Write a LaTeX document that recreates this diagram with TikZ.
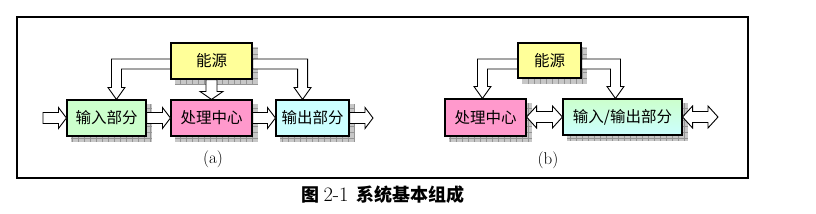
\documentclass[tikz,border=0pt]{standalone}
\usepackage{fontspec}
\newfontfamily\cjk{Noto Sans CJK SC}
\usetikzlibrary{calc,backgrounds}

\definecolor{powercol}{HTML}{FFFF99}
\definecolor{incol}{HTML}{CCFFCC}
\definecolor{cpucol}{HTML}{FF99CC}
\definecolor{outcol}{HTML}{CCFFFF}

% hollow block arrows, drawn as one outline
\newcommand\hollowright[2]{%
  \draw[hollow] let \p1=(#1), \p2=(#2) in
    (\x1,{\y2+5.5pt}) -- ({\x2-8pt},{\y2+5.5pt}) -- ({\x2-8pt},{\y2+10.5pt}) -- (\x2,\y2)
    -- ({\x2-8pt},{\y2-10.5pt}) -- ({\x2-8pt},{\y2-5.5pt}) -- (\x1,{\y2-5.5pt}) -- cycle;}
\newcommand\hollowboth[2]{%
  \draw[hollow] let \p1=(#1), \p2=(#2) in
    (\x1,\y2) -- ({\x1+10pt},{\y2+11pt}) -- ({\x1+10pt},{\y2+5.5pt}) -- ({\x2-10pt},{\y2+5.5pt})
    -- ({\x2-10pt},{\y2+11pt}) -- (\x2,\y2) -- ({\x2-10pt},{\y2-11pt}) -- ({\x2-10pt},{\y2-5.5pt})
    -- ({\x1+10pt},{\y2-5.5pt}) -- ({\x1+10pt},{\y2-11pt}) -- cycle;}
\newcommand\hollowdown[2]{%
  \draw[hollow] let \p1=(#1), \p2=(#2) in
    ({\x2-5.5pt},\y1) -- ({\x2-5.5pt},{\y2+8pt}) -- ({\x2-11.5pt},{\y2+8pt}) -- (\x2,\y2)
    -- ({\x2+11.5pt},{\y2+8pt}) -- ({\x2+5.5pt},{\y2+8pt}) -- ({\x2+5.5pt},\y1) -- cycle;}
% #3: 1 = goes right, -1 = goes left
\newcommand\hollowbent[3]{%
  \draw[hollow] let \p1=(#1), \p2=(#2) in
    (\x1,{\y1+5pt}) -- ({\x2+(#3)*5pt},{\y1+5pt}) -- ({\x2+(#3)*5pt},{\y2+12pt})
    -- ({\x2+(#3)*8.5pt},{\y2+12pt}) -- (\x2,\y2) -- ({\x2-(#3)*8.5pt},{\y2+12pt})
    -- ({\x2-(#3)*5pt},{\y2+12pt}) -- ({\x2-(#3)*5pt},{\y1-5pt}) -- (\x1,{\y1-5pt}) -- cycle;}

\begin{document}
\begin{tikzpicture}[x=1pt,y=-1pt,
  box/.style={draw,line width=1.1pt,inner sep=0pt,minimum height=36,
    font=\cjk\fontsize{15.5}{18}\selectfont},
  hollow/.style={draw,fill=white,line width=0.9pt,line join=miter},
  sublabel/.style={font=\fontsize{17}{20}\selectfont},
  shadowfill/.style={fill=black!22},
  shadowgrid/.style={draw=black!42,line width=0.5pt,step=6pt}]
  \useasboundingbox (0,0) rectangle (816,214);
  \draw[line width=1.4pt] (17,17) rectangle (748,178);

  % (a)
  \node[box,fill=powercol,minimum width=81] (powerA) at (211.5,61) {能源};
  \node[box,fill=incol,minimum width=79] (inputA) at (106.5,118) {输入部分};
  \node[box,fill=cpucol,minimum width=81] (cpuA) at (211.5,118) {处理中心};
  \node[box,fill=outcol,minimum width=73] (outputA) at (312.5,118) {输出部分};
  \coordinate (srcA) at (43,118);
  \coordinate (sinkA) at (373,118);
  \node[sublabel] (labelA) at (213,159) {(a)};

  % (b)
  \node[box,fill=powercol,minimum width=63,minimum height=35] (powerB) at (549.5,60.5) {能源};
  \node[box,fill=cpucol,minimum width=81,minimum height=37] (cpuB) at (485.5,117.5) {处理中心};
  \node[box,top color=incol,bottom color=outcol,minimum width=119] (ioB) at (622.5,117) {输入/输出部分};
  \coordinate (sinkB) at (718,117);
  \node[sublabel] (labelB) at (548,160) {(b)};

  \begin{scope}[on background layer]
    \foreach \n in {powerA,inputA,cpuA,outputA,powerB,cpuB,ioB}{
      \fill[shadowfill] ($(\n.south west)+(5,5)$) rectangle ($(\n.north east)+(5,5)$);
      \draw[shadowgrid] ($(\n.south west)+(5,5)$) grid ($(\n.north east)+(5,5)$);
    }
  \end{scope}

  \hollowright{srcA}{inputA.west}
  \hollowright{inputA.east}{cpuA.west}
  \hollowright{cpuA.east}{outputA.west}
  \hollowright{outputA.east}{sinkA}
  \hollowdown{powerA.south}{cpuA.north}
  \hollowbent{$(powerA.west)+(0,3)$}{$(inputA.north west)+(50,0)$}{-1}
  \hollowbent{$(powerA.east)+(0,3)$}{$(outputA.north east)+(-47,0)$}{1}

  \hollowboth{cpuB.east}{ioB.west}
  \hollowboth{ioB.east}{sinkB}
  \hollowbent{$(powerB.west)+(0,3.5)$}{$(cpuB.north west)+(38,0)$}{-1}
  \hollowbent{$(powerB.east)+(0,3.5)$}{$(ioB.north west)+(53,0)$}{1}

  \node[font=\fontsize{18}{21}\selectfont] (caption) at (383,195)
    {{\cjk\bfseries 图}\hspace{4pt}{\fontsize{20.5}{21}\selectfont 2-1}\hspace{8pt}{\cjk\bfseries 系统基本组成}};
\end{tikzpicture}
\end{document}
